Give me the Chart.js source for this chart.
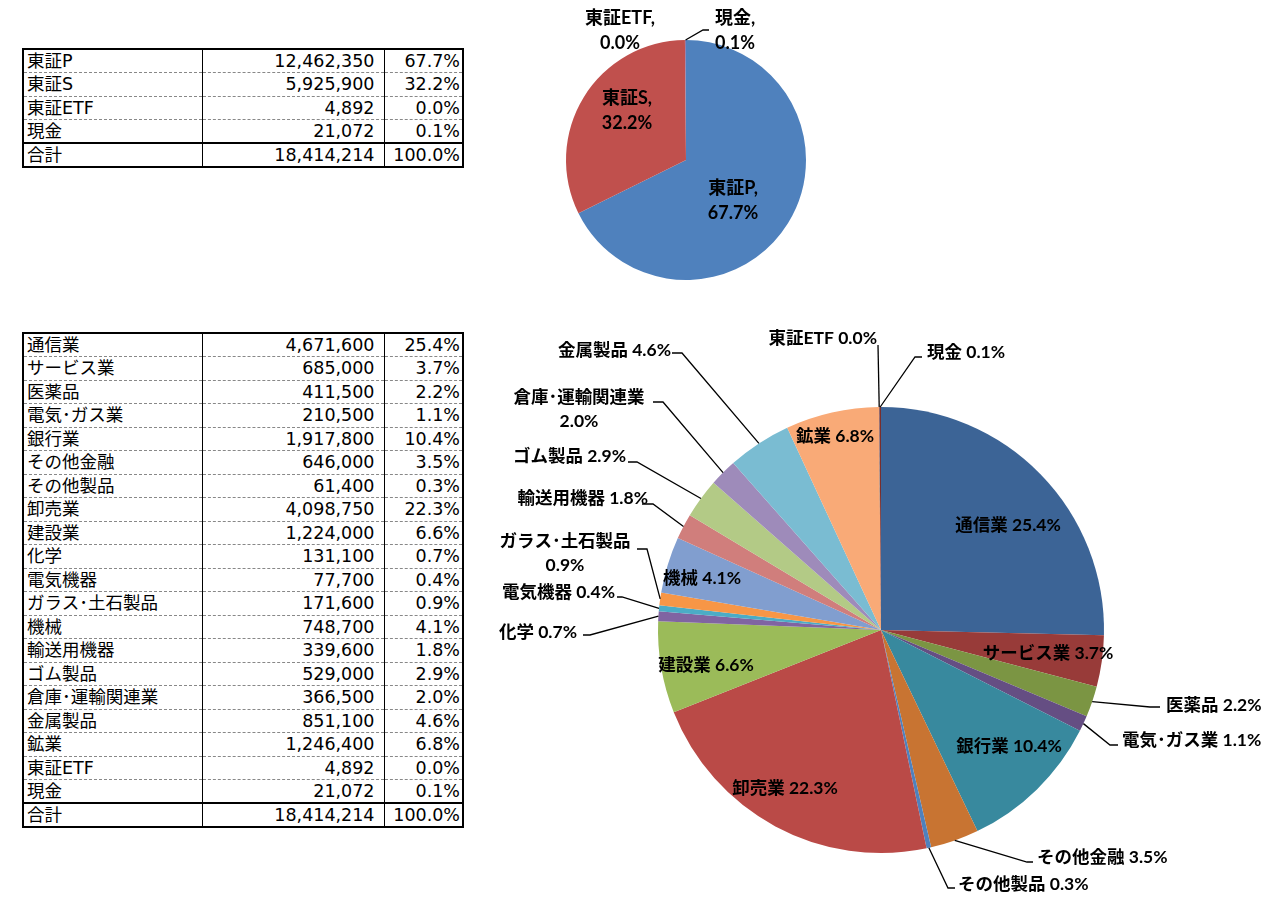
<!DOCTYPE html>
<html>
<head>
<meta charset="utf-8">
<script src="https://cdn.jsdelivr.net/npm/chart.js@4.4.0/dist/chart.umd.min.js"></script>
<style>
  body { margin: 0; background: #fff; width: 1280px; height: 913px; position: relative; overflow: hidden; }
  table.tbl { position: absolute; left: 22px; border-collapse: collapse; table-layout: fixed;
              font-family: "DejaVu Sans", "Noto Sans CJK JP", sans-serif; font-size: 17.5px; color: #000;
              border: 2px solid #000; }
  table.tbl td { padding: 0 3px; line-height: 20px; white-space: nowrap; overflow: hidden;
                 border-left: 1px solid #000; border-right: 1px solid #000;
                 border-bottom: 1px dashed #888; }
  table.tbl td.num { text-align: right; padding-right: 9px; }
  table.tbl td.pct { text-align: right; padding-right: 2px; }
  table.tbl tr.total td { border-top: 2px solid #000; border-bottom: none; }
  canvas { position: absolute; }
</style>
</head>
<body>
<table class="tbl" id="tbl1" style="top:48px;width:440px"></table>
<table class="tbl" id="tbl2" style="top:332px;width:440px"></table>
<canvas id="pie1" style="left:540px;top:0px;width:300px;height:300px" width="300" height="300"></canvas>
<canvas id="pie2" style="left:480px;top:320px;width:800px;height:593px" width="800" height="593"></canvas>
<script>
// 市場別
const marketNames = ['東証P', '東証S', '東証ETF', '現金'];
const marketValues = [12462350, 5925900, 4892, 21072];
const marketColors = ['#4F81BD', '#C0504D', '#9BBB59', '#8064A2'];

// 業種別
const sectorNames = ['通信業', 'サービス業', '医薬品', '電気･ガス業', '銀行業', 'その他金融', 'その他製品',
  '卸売業', '建設業', '化学', '電気機器', 'ガラス･土石製品', '機械', '輸送用機器', 'ゴム製品',
  '倉庫･運輸関連業', '金属製品', '鉱業', '東証ETF', '現金'];
const sectorValues = [4671600, 685000, 411500, 210500, 1917800, 646000, 61400,
  4098750, 1224000, 131100, 77700, 171600, 748700, 339600, 529000,
  366500, 851100, 1246400, 4892, 21072];
const sectorColors = ['#3C6496', '#983B39', '#7B9543', '#654E83', '#38899E', '#C87432',
  '#4F81BD', '#BA4A47', '#9BBB59', '#8064A2', '#4BACC6', '#F79646',
  '#819ECF', '#D07E7C', '#B3CA86', '#9E8BBA', '#7ABCD2', '#F9AA77',
  '#2F4C72', '#7A2E2C'];

const fmt = v => v.toLocaleString('en-US');
const pct = (v, t) => (v / t * 100).toFixed(1) + '%';

function buildTable(id, names, values, rowH) {
  const total = values.reduce((a, b) => a + b, 0);
  const tbl = document.getElementById(id);
  const cg = document.createElement('colgroup');
  [179, 182, 79].forEach(w => { const c = document.createElement('col'); c.style.width = w + 'px'; cg.appendChild(c); });
  tbl.appendChild(cg);
  const rows = names.map((n, i) => [n, fmt(values[i]), pct(values[i], total), false]);
  rows.push(['合計', fmt(total), '100.0%', true]);
  rows.forEach(r => {
    const tr = document.createElement('tr');
    if (r[3]) tr.className = 'total';
    tr.style.height = rowH + 'px';
    ['', 'num', 'pct'].forEach((cls, k) => {
      const td = document.createElement('td');
      td.className = cls;
      td.textContent = r[k];
      tr.appendChild(td);
    });
    tbl.appendChild(tr);
  });
}
buildTable('tbl1', marketNames, marketValues, 23.6);
buildTable('tbl2', sectorNames, sectorValues, 23.5);

// label layout, offsets from pie centre: text pos, align, optional leader elbow/end
const marketLabelPos = [
  { x: 47, y: 28, align: 'center' },
  { x: -59, y: -62, align: 'center' },
  { x: -66, y: -142, align: 'center' },
  { x: 49, y: -142, align: 'center', elbow: [17, -130], end: [23, -130] }
];
const sectorLabelPos = [
  { x: 127, y: -105, align: 'center' },
  { x: 167, y: 23, align: 'center' },
  { x: 285, y: 75, align: 'left', elbow: [269, 77], end: [279, 77] },
  { x: 241, y: 110, align: 'left', elbow: [229, 115], end: [237, 115] },
  { x: 128, y: 116, align: 'center' },
  { x: 156, y: 227, align: 'left', elbow: [146, 232], end: [152, 232] },
  { x: 77, y: 254, align: 'left', elbow: [67, 258], end: [74, 258] },
  { x: -96, y: 158, align: 'center' },
  { x: -175, y: 35, align: 'center' },
  { x: -304, y: 2, align: 'right', elbow: [-291, 5], end: [-298, 5] },
  { x: -266, y: -38, align: 'right', elbow: [-259, -33], end: [-264, -33] },
  { x: -316, y: -89, align: 'center', wrap: true, elbow: [-234, -81], end: [-244, -81] },
  { x: -179, y: -52, align: 'center' },
  { x: -233, y: -132, align: 'right', elbow: [-228, -126], end: [-239, -126] },
  { x: -255, y: -174, align: 'right', elbow: [-244, -168], end: [-253, -168] },
  { x: -302, y: -233, align: 'center', wrap: true, elbow: [-218, -228], end: [-228, -228] },
  { x: -210, y: -280, align: 'right', elbow: [-199, -277], end: [-209, -277] },
  { x: -46, y: -194, align: 'center' },
  { x: -4, y: -292, align: 'right', elbow: [-3, -285], end: [-3, -285] },
  { x: 46, y: -278, align: 'left', elbow: [34, -273], end: [41, -273] }
];

const labelPlugin = {
  id: 'sliceLabels',
  afterDatasetsDraw(chart, args, opts) {
    const ctx = chart.ctx;
    const meta = chart.getDatasetMeta(0);
    const vals = chart.data.datasets[0].data;
    const total = vals.reduce((a, b) => a + b, 0);
    ctx.save();
    ctx.font = 'bold ' + opts.size + 'px Lato, "Noto Sans CJK JP", sans-serif';
    ctx.fillStyle = '#000';
    ctx.strokeStyle = '#000';
    ctx.lineWidth = 1.3;
    ctx.textBaseline = 'middle';
    meta.data.forEach((arc, i) => {
      const p = arc.getProps(['x', 'y', 'startAngle', 'endAngle', 'outerRadius'], true);
      const L = opts.layout[i];
      const name = chart.data.labels[i];
      const pv = pct(vals[i], total);
      let lines;
      if (opts.comma) lines = [name + ',', pv];
      else if (L.wrap) lines = [name, pv];
      else lines = [name + ' ' + pv];
      if (L.elbow) {
        const mid = (p.startAngle + p.endAngle) / 2;
        ctx.beginPath();
        ctx.moveTo(p.x + Math.cos(mid) * p.outerRadius, p.y + Math.sin(mid) * p.outerRadius);
        ctx.lineTo(p.x + L.elbow[0], p.y + L.elbow[1]);
        ctx.lineTo(p.x + L.end[0], p.y + L.end[1]);
        ctx.stroke();
      }
      ctx.textAlign = L.align;
      const gap = opts.comma ? 25 : 24;
      lines.forEach((t, k) => ctx.fillText(t, p.x + L.x, p.y + L.y + k * gap));
    });
    ctx.restore();
  }
};

function pieChart(id, names, values, colors, padding, layout, comma, size) {
  new Chart(document.getElementById(id), {
    type: 'pie',
    data: {
      labels: names,
      datasets: [{ data: values, backgroundColor: colors, borderWidth: 0 }]
    },
    options: {
      responsive: false,
      animation: false,
      layout: { padding: padding },
      plugins: {
        legend: { display: false },
        tooltip: { enabled: false },
        sliceLabels: { layout: layout, comma: comma, size: size }
      }
    },
    plugins: [labelPlugin]
  });
}

pieChart('pie1', marketNames, marketValues, marketColors,
  { left: 26, right: 34, top: 40, bottom: 20 }, marketLabelPos, true, 18);
pieChart('pie2', sectorNames, sectorValues, sectorColors,
  { left: 178, right: 176, top: 87, bottom: 60 }, sectorLabelPos, false, 17.5);
</script>
</body>
</html>
